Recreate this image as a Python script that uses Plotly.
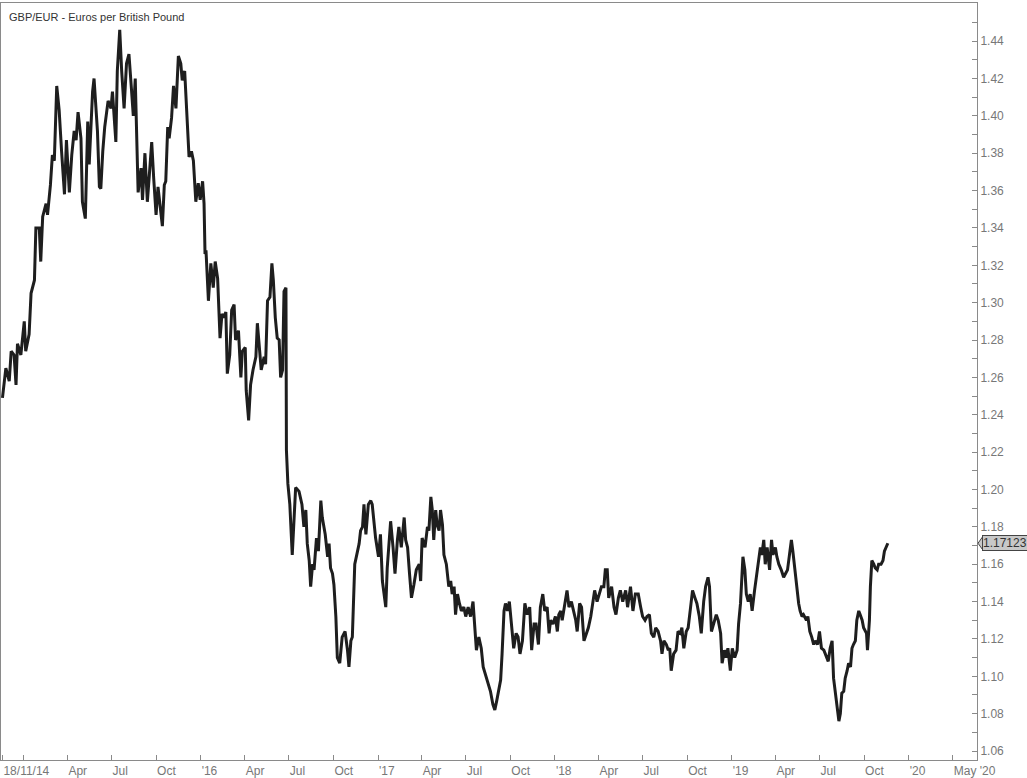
import pandas as pd
import plotly.graph_objects as go

START = "2014-11-18"

# days since START and GBP/EUR rate, split by period
days_a = [0, 7, 14, 18, 24, 28, 31, 38, 45, 48, 55, 59, 66, 69, 76, 79, 83, 90, 93, 99, 103, 107, 112, 117, 122,
          128, 132, 138, 143, 148, 152, 156, 162, 165, 171, 176, 179, 186, 189, 196, 200, 203, 207, 211, 218, 224,
          227, 234, 237, 242, 246, 251, 256, 261, 266, 270, 274, 279, 280, 286, 289, 294, 299, 303, 308, 312, 317,
          321, 325, 330, 334, 337, 341, 344, 349, 353, 358, 363, 368, 371, 376, 382, 385, 390, 394, 399, 404, 408,
          413, 416, 418]
rate_a = [1.249, 1.265, 1.258, 1.274, 1.272, 1.256, 1.278, 1.272, 1.290, 1.274, 1.283, 1.305, 1.312, 1.340, 1.340,
          1.322, 1.346, 1.353, 1.347, 1.363, 1.379, 1.376, 1.416, 1.403, 1.381, 1.358, 1.387, 1.359, 1.379, 1.392,
          1.387, 1.402, 1.388, 1.354, 1.345, 1.397, 1.374, 1.413, 1.420, 1.392, 1.362, 1.361, 1.381, 1.394, 1.408,
          1.404, 1.413, 1.386, 1.424, 1.446, 1.424, 1.404, 1.428, 1.433, 1.415, 1.400, 1.420, 1.379, 1.359, 1.372,
          1.355, 1.380, 1.354, 1.368, 1.386, 1.367, 1.347, 1.362, 1.353, 1.341, 1.363, 1.365, 1.394, 1.388, 1.399,
          1.416, 1.404, 1.432, 1.428, 1.419, 1.424, 1.392, 1.378, 1.381, 1.376, 1.354, 1.364, 1.355, 1.365, 1.353,
          1.326]

days_b = [420, 425, 430, 435, 439, 444, 449, 453, 457, 461, 464, 469, 473, 478, 481, 487, 492, 495, 501, 503, 508,
          512, 517, 523, 526, 530, 534, 540, 543, 547, 552, 556, 559, 563, 567, 571, 574, 578, 581, 585, 586, 589,
          593, 598, 602, 605, 612, 618, 622, 626, 629, 633, 636, 640, 643, 648, 652, 657, 660, 666, 671, 674, 677,
          681, 684, 688, 691, 696, 701, 707, 712, 715, 719, 722, 727, 732, 736, 739, 743, 746, 750, 755, 760, 763,
          767, 770, 776, 780, 784, 787, 791]
rate_b = [1.328, 1.301, 1.321, 1.308, 1.322, 1.313, 1.281, 1.294, 1.292, 1.295, 1.262, 1.272, 1.296, 1.299, 1.280,
          1.285, 1.260, 1.274, 1.276, 1.253, 1.237, 1.256, 1.264, 1.271, 1.289, 1.278, 1.264, 1.271, 1.267, 1.301,
          1.303, 1.321, 1.312, 1.292, 1.281, 1.280, 1.260, 1.264, 1.306, 1.308, 1.221, 1.203, 1.192, 1.165, 1.182,
          1.201, 1.199, 1.192, 1.180, 1.189, 1.171, 1.162, 1.148, 1.160, 1.157, 1.174, 1.167, 1.194, 1.185, 1.176,
          1.164, 1.171, 1.158, 1.155, 1.149, 1.132, 1.110, 1.107, 1.121, 1.124, 1.114, 1.105, 1.119, 1.121, 1.160,
          1.167, 1.171, 1.178, 1.180, 1.192, 1.176, 1.192, 1.194, 1.192, 1.180, 1.174, 1.164, 1.176, 1.151, 1.146,
          1.137]

days_c = [794, 801, 806, 810, 815, 818, 823, 829, 832, 836, 840, 844, 849, 854, 860, 863, 866, 872, 877, 880, 884,
          887, 890, 894, 897, 901, 904, 908, 911, 916, 921, 925, 928, 932, 935, 939, 943, 947, 952, 956, 961, 966,
          971, 975, 978, 983, 988, 992, 997, 1002, 1007, 1012, 1016, 1020, 1024, 1028, 1031, 1035, 1038, 1042,
          1046, 1051, 1055, 1060, 1064, 1068, 1073, 1078, 1083, 1088, 1092, 1097, 1101, 1106, 1110, 1115, 1119,
          1124, 1128, 1131, 1136, 1141, 1145, 1148, 1152, 1155, 1161, 1165, 1169, 1174]
rate_c = [1.158, 1.183, 1.169, 1.155, 1.173, 1.180, 1.169, 1.185, 1.173, 1.169, 1.155, 1.142, 1.149, 1.157, 1.160,
          1.151, 1.174, 1.169, 1.180, 1.178, 1.196, 1.189, 1.173, 1.189, 1.181, 1.178, 1.189, 1.181, 1.165, 1.160,
          1.148, 1.151, 1.144, 1.148, 1.133, 1.144, 1.139, 1.135, 1.137, 1.132, 1.137, 1.132, 1.140, 1.123, 1.114,
          1.121, 1.115, 1.105, 1.101, 1.096, 1.092, 1.085, 1.082, 1.087, 1.092, 1.098, 1.112, 1.135, 1.139, 1.135,
          1.140, 1.128, 1.115, 1.123, 1.121, 1.112, 1.119, 1.139, 1.133, 1.137, 1.114, 1.128, 1.128, 1.117, 1.137,
          1.144, 1.135, 1.137, 1.123, 1.130, 1.128, 1.132, 1.124, 1.133, 1.135, 1.130, 1.140, 1.146, 1.137, 1.140]

days_d = [1183, 1186, 1191, 1195, 1200, 1203, 1209, 1214, 1218, 1222, 1227, 1231, 1236, 1241, 1244, 1248, 1251,
          1257, 1262, 1266, 1271, 1275, 1280, 1286, 1290, 1296, 1301, 1306, 1312, 1317, 1321, 1326, 1330, 1335,
          1339, 1344, 1348, 1353, 1358, 1361, 1365, 1370, 1374, 1377, 1380, 1385, 1390, 1394, 1399, 1402, 1406,
          1411, 1415, 1420, 1424, 1429, 1433, 1438, 1442, 1447, 1451, 1456, 1459, 1463, 1468, 1473, 1477, 1482,
          1485, 1490, 1493, 1497, 1502, 1506, 1511, 1516, 1519, 1523, 1528, 1532, 1535, 1539, 1543, 1547, 1552,
          1557, 1561]
rate_d = [1.130, 1.124, 1.139, 1.137, 1.119, 1.121, 1.126, 1.132, 1.140, 1.146, 1.140, 1.144, 1.148, 1.148, 1.157,
          1.157, 1.142, 1.148, 1.137, 1.133, 1.142, 1.146, 1.140, 1.146, 1.137, 1.148, 1.135, 1.144, 1.144, 1.137,
          1.132, 1.130, 1.132, 1.133, 1.123, 1.121, 1.126, 1.124, 1.119, 1.112, 1.119, 1.117, 1.114, 1.115, 1.103,
          1.112, 1.114, 1.124, 1.123, 1.126, 1.115, 1.124, 1.126, 1.137, 1.146, 1.142, 1.139, 1.132, 1.123, 1.140,
          1.148, 1.153, 1.148, 1.124, 1.128, 1.133, 1.130, 1.123, 1.107, 1.114, 1.110, 1.115, 1.103, 1.115, 1.110,
          1.114, 1.128, 1.139, 1.164, 1.157, 1.144, 1.140, 1.144, 1.135, 1.146, 1.155, 1.165]

days_e = [1564, 1567, 1571, 1574, 1578, 1583, 1587, 1590, 1595, 1598, 1602, 1607, 1612, 1616, 1620, 1624, 1628,
          1631, 1635, 1640, 1643, 1646, 1650, 1653, 1659, 1662, 1666, 1670, 1674, 1677, 1682, 1686, 1690, 1695,
          1698, 1704, 1708, 1712, 1715, 1719, 1722, 1726, 1729, 1732, 1736, 1739, 1743, 1746, 1750, 1753, 1756,
          1760, 1763, 1767, 1770, 1774, 1777, 1783, 1785, 1789, 1791, 1794, 1798, 1801, 1805, 1808, 1813, 1817,
          1820, 1824, 1827]
rate_e = [1.169, 1.165, 1.173, 1.160, 1.169, 1.157, 1.173, 1.165, 1.169, 1.164, 1.160, 1.157, 1.153, 1.155, 1.157,
          1.165, 1.173, 1.167, 1.157, 1.148, 1.139, 1.135, 1.132, 1.133, 1.130, 1.132, 1.124, 1.121, 1.117, 1.119,
          1.117, 1.124, 1.115, 1.114, 1.112, 1.108, 1.115, 1.119, 1.099, 1.091, 1.087, 1.076, 1.080, 1.091, 1.092,
          1.099, 1.103, 1.107, 1.105, 1.115, 1.117, 1.119, 1.130, 1.135, 1.133, 1.130, 1.126, 1.123, 1.114, 1.130,
          1.148, 1.162, 1.160, 1.158, 1.157, 1.160, 1.160, 1.162, 1.167, 1.169, 1.17123]

LAST_VALUE = 1.17123

tick_dates = ["2014-11-18", "2015-01-01", "2015-04-01", "2015-07-01", "2015-10-01", "2016-01-01", "2016-04-01",
              "2016-07-01", "2016-10-01", "2017-01-01", "2017-04-01", "2017-07-01", "2017-10-01", "2018-01-01",
              "2018-04-01", "2018-07-01", "2018-10-01", "2019-01-01", "2019-04-01", "2019-07-01", "2019-10-01",
              "2020-01-01", "2020-04-01"]
tick_labels = ["18/11/14", "", "Apr", "Jul", "Oct", "'16", "Apr", "Jul", "Oct", "'17", "Apr", "Jul", "Oct", "'18",
               "Apr", "Jul", "Oct", "'19", "Apr", "Jul", "Oct", "'20", "May '20"]

days = days_a + days_b + days_c + days_d + days_e
rates = rate_a + rate_b + rate_c + rate_d + rate_e
dates = pd.to_datetime(START) + pd.to_timedelta(days, unit="D")

AX = "#8a8a8a"
LBL = "#777777"
FONT = "Arial, Liberation Sans, sans-serif"

fig = go.Figure()
fig.add_trace(go.Scatter(x=dates, y=rates, mode="lines",
                         line=dict(color="#1e1e1e", width=3), hoverinfo="x+y"))

fig.update_layout(
    width=1027, height=778,
    margin=dict(l=1, r=50, t=3, b=18),
    paper_bgcolor="white", plot_bgcolor="white",
    showlegend=False,
    font=dict(family=FONT, size=12, color=LBL),
    xaxis=dict(
        type="date", range=["2014-11-15", "2020-05-21"],
        tickmode="array", tickvals=tick_dates, ticktext=tick_labels,
        ticks="inside", ticklen=5, tickcolor=AX, tickwidth=1,
        ticklabelposition="outside right",
        showline=True, linecolor=AX, linewidth=1, mirror=True,
        showgrid=False, zeroline=False, automargin=False,
        tickfont=dict(family=FONT, size=12, color=LBL),
    ),
    yaxis=dict(
        side="right", range=[1.0552, 1.4604],
        tick0=1.06, dtick=0.02, tickformat=".2f",
        ticks="inside", ticklen=5, tickcolor=AX, tickwidth=1,
        minor=dict(dtick=0.01, tick0=1.06, ticks="inside", ticklen=5, tickcolor=AX, showgrid=False),
        showline=True, linecolor=AX, linewidth=1, mirror=True,
        showgrid=False, zeroline=False, automargin=False,
        tickfont=dict(family=FONT, size=12, color=LBL),
    ),
)

fig.add_annotation(text="GBP/EUR - Euros per British Pound", xref="paper", yref="paper",
                   x=0, y=1, xanchor="left", yanchor="top", xshift=6, yshift=-6,
                   showarrow=False, font=dict(family=FONT, size=11, color="#333333"))

fig.add_shape(type="path", xref="paper", yref="y", xsizemode="pixel", ysizemode="pixel",
              xanchor=1, yanchor=LAST_VALUE,
              path="M 1,0 L 6,-7 L 6,7 Z",
              fillcolor="#c8c8c8", line=dict(color="#444444", width=1))

fig.add_annotation(text=str(LAST_VALUE), xref="paper", yref="y", x=1, y=LAST_VALUE,
                   xanchor="left", yanchor="middle", xshift=5, showarrow=False,
                   bgcolor="#c8c8c8", bordercolor="#444444", borderwidth=1, borderpad=0,
                   font=dict(family=FONT, size=12, color="#333333"))

fig.write_html("out.html", config={"displayModeBar": False},
               post_script="document.body.style.margin='0';document.body.style.overflow='hidden';")
